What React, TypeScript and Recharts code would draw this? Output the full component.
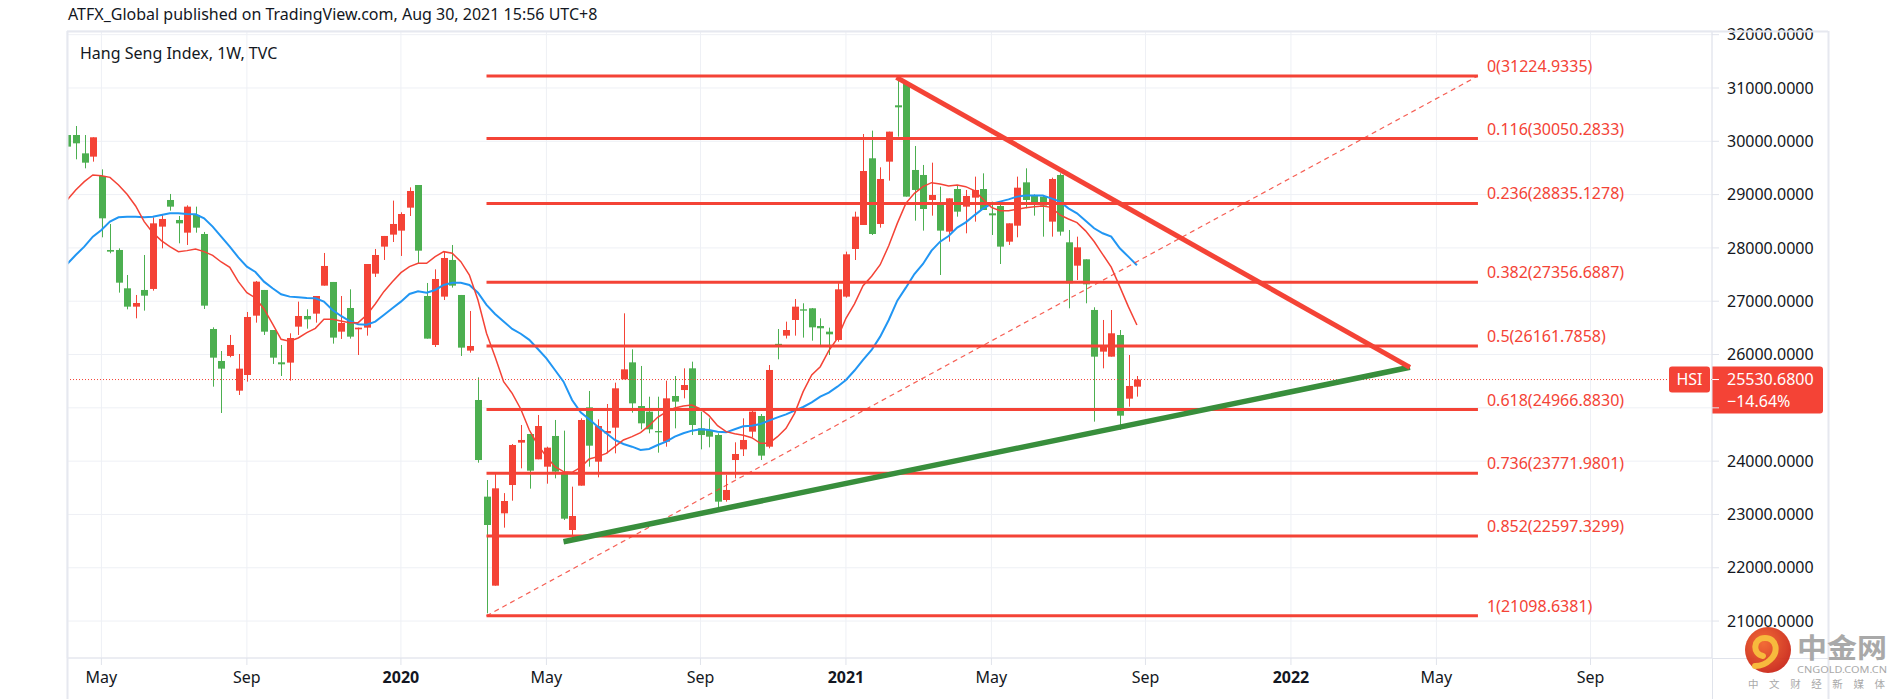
import React from 'react';
import { ComposedChart, Bar, Line, XAxis, YAxis, CartesianGrid, ReferenceLine } from 'recharts';

const RED = '#f44336';
const GREEN = '#4caf50';
const BLUE = '#2196f3';
const DARK_GREEN = '#388e3c';
const FONT = '"Noto Sans", "Open Sans", sans-serif';

// Weekly candles, index 0 = week of 2019-04-08 ... index 125 = week of 2021-08-30
const opens = [30118,30118,29774,29712,29349,27961,27961,27242,26898,27211,27230,28399,28899,28524,28286,28618,28261,26479,25879,25973,25322,25616,26729,27211,26460,25854,25848,26523,26723,26767,27292,27361,26429,26873,26473,26504,27517,28024,28249,28324,28755,29180,27098,26179,27086,27774,27117,26073,25147,23334,21664,23021,23552,24347,24509,24034,23896,24472,23759,22708,23540,25009,23990,24522,24628,25535,25853,25034,24928,24565,24365,25222,25334,25741,24615,24584,24490,23271,24021,24221,24553,24847,24271,26200,26354,26648,26848,26867,26535,26429,26273,27086,27980,28430,29681,28449,29618,30675,31088,29462,29368,28899,28805,28305,29105,28774,28943,29105,28649,28786,28117,28417,29230,28993,28962,28493,29368,28105,27667,27786,26836,26054,25960,26366,25172,25397];
const highs = [30225,30287,30118,30075,29474,28449,27992,27492,27117,27867,28574,28636,29012,28599,28799,28774,28299,26510,26066,26367,26010,26798,27380,27211,26460,26179,26398,26992,26848,27098,27905,27361,27098,27223,26504,27698,27980,28224,28887,28668,29136,29180,27342,27598,27930,28055,27117,26817,25572,23646,23759,23400,24320,24678,24509,24866,24271,24772,24572,23521,24803,25316,24784,25072,25472,26773,26097,25785,25209,25209,25510,25597,25741,25866,24928,24803,24522,23740,24353,24803,24959,24884,25803,26479,26617,27042,26961,26873,26679,26504,27336,27930,28680,30137,30200,29512,30181,31225,31100,29912,29556,29599,29149,28930,29162,29087,29337,29399,28868,28836,28461,29337,29493,29005,28993,29318,29399,28336,28211,27786,26886,26648,26835,26460,25991,25597];
const lows = [29681,29662,29493,29618,28199,27899,27161,26848,26679,26823,27198,27992,28699,28086,28055,28286,26854,25397,24903,25948,25241,25491,26598,26367,25823,25597,25510,26367,26485,26598,27292,26204,26292,26298,25991,26354,27455,27774,28111,27849,28599,27711,26298,26141,27023,27255,25973,26035,23971,21145,21664,22752,23258,23865,23484,24034,23577,23677,22896,22508,23540,23896,23696,24146,24146,25535,24909,24597,24522,24159,24271,24615,25178,24490,24221,24259,23133,23240,23677,24096,24447,24021,24240,25910,26300,26354,26317,26260,26147,25991,26241,27067,27773,28430,28242,28380,29262,30087,28962,28511,28324,28605,27492,28117,28586,28274,28493,28711,28242,27698,28055,28199,28743,28605,28211,28211,28230,26867,27398,26961,24741,25741,25960,24584,25022,25210];
const closes = [29900,29962,29599,30075,28555,27930,27348,26898,26967,27104,28461,28543,28774,28461,28774,28380,26917,25941,25735,26179,25735,26704,27367,26429,25941,25816,26310,26723,26660,27098,27661,26317,26592,26335,26504,27698,27867,28224,28449,28636,29068,27948,26298,27417,27811,27292,26129,26160,24021,22802,23490,23252,24303,24397,23821,24659,24253,23803,22921,22971,24772,24290,24659,24565,25366,25722,25084,24709,24597,24540,25178,25116,25428,24678,24490,24459,23240,23459,24134,24397,24928,24103,25710,26160,26460,26898,26823,26510,26492,26379,27223,27880,28586,29443,28261,29293,30181,30637,28962,29087,28730,28993,28324,28930,28680,28974,29087,28711,28611,28024,28461,29130,28899,28824,28793,29293,28305,27336,28011,27317,25960,26179,26398,24853,25410,25530.68];

// Moving averages (red = fast, blue = slow)
const maFast = [28899,29087,29243,29368,29355,29324,29180,29005,28786,28492,28286,28136,28024,27930,27949,27980,27930,27861,27736,27636,27367,27161,27061,26854,26573,26285,26248,26310,26410,26492,26660,26660,26629,26598,26598,26742,26948,27179,27367,27536,27648,27711,27711,27836,27930,27899,27742,27492,27023,26398,25960,25491,25272,24978,24584,24303,24084,23896,23803,23790,23884,24040,24084,24146,24271,24397,24459,24534,24665,24822,24922,24997,25034,25053,24978,24853,24665,24553,24515,24484,24440,24334,24334,24459,24615,24897,25303,25616,25772,26072,26304,26680,26950,27290,27470,27685,28040,28460,28836,29024,29149,29224,29199,29162,29180,29149,29074,28918,28761,28699,28699,28724,28755,28774,28786,28761,28618,28543,28474,28320,28120,27880,27640,27273,26898,26554];
const maSlow = [27698,27867,28024,28211,28336,28493,28574,28586,28586,28574,28586,28618,28649,28649,28636,28630,28555,28399,28211,28024,27823,27648,27548,27367,27242,27130,27086,27073,27061,27055,26992,26836,26723,26629,26567,26560,26617,26742,26867,26992,27136,27186,27161,27211,27305,27348,27348,27305,27160,26930,26760,26620,26480,26390,26275,26104,25929,25710,25491,25147,24916,24784,24647,24522,24397,24321,24271,24209,24228,24303,24365,24459,24522,24572,24597,24584,24553,24540,24597,24653,24665,24697,24759,24822,24878,24947,25016,25103,25209,25284,25397,25522,25700,25898,26085,26335,26648,27010,27254,27511,27698,27949,28117,28224,28380,28480,28611,28736,28824,28868,28911,28962,28981,28981,28981,28930,28868,28743,28649,28511,28368,28274,28211,27992,27836,27674];

// Time axis (bar index of first weekly bar of the month)
const timeTicks = [4, 21, 39, 56, 74, 91, 108, 126, 143, 160, 178];
const timeLabels = ['May', 'Sep', '2020', 'May', 'Sep', '2021', 'May', 'Sep', '2022', 'May', 'Sep'];
const priceTicks = [21000, 22000, 23000, 24000, 25000, 26000, 27000, 28000, 29000, 30000, 31000, 32000];

// Fibonacci retracement
const fibRatios = ['0', '0.116', '0.236', '0.382', '0.5', '0.618', '0.736', '0.852', '1'];
const fibLevels = [31224.9335, 30050.2833, 28835.1278, 27356.6887, 26161.7858, 24966.883, 23771.9801, 22597.3299, 21098.6381];
const fibFrom = 49;
const fibTo = 164.85;

// Triangle trend lines
const resistanceLine = [{ x: 96.9, y: 31200 }, { x: 156.9, y: 25760 }];
const supportLine = [{ x: 58, y: 22489 }, { x: 156.9, y: 25760 }];

const lastPrice = 25530.68;
const lastChange = '\u221214.64%';

const data = opens.map((o, i) => ({
  i,
  range: [lows[i], highs[i]],
  open: o,
  high: highs[i],
  low: lows[i],
  close: closes[i],
  maFast: maFast[i],
  maSlow: maSlow[i],
}));

const Candle = (props: any) => {
  const { x, y, width, height, payload } = props;
  if (x == null || y == null || !payload) return null;
  const { open, close, high, low } = payload;
  const cx = Math.round(x + width / 2) + 0.5;
  const span = high - low;
  const k = span > 0 ? height / span : 0;
  const yOf = (v: number) => y + (high - v) * k;
  const up = close >= open;
  const color = up ? RED : GREEN;
  const top = yOf(Math.max(open, close));
  const bot = yOf(Math.min(open, close));
  return (
    <g>
      <line x1={cx} x2={cx} y1={y} y2={y + height} stroke={color} strokeWidth={1} />
      <rect x={cx - 3.5} y={top} width={7} height={Math.max(1, bot - top)} fill={color} />
    </g>
  );
};

const TimeTick = (props: any) => {
  const { x, y, payload } = props;
  const idx = timeTicks.indexOf(payload.value);
  const label = timeLabels[idx] ?? '';
  const bold = /^\d{4}$/.test(label);
  return (
    <text x={x} y={y} dy={14} textAnchor="middle" fontFamily={FONT} fontSize={16}
      fontWeight={bold ? 700 : 400} fill="#131722">{label}</text>
  );
};

const PriceTick = (props: any) => {
  const { x, y, payload } = props;
  if (payload.value === 25000) return <g />;
  return (
    <text x={x} y={y} dy="0.35em" textAnchor="start" fontFamily={FONT} fontSize={16} fill="#131722">
      {Number(payload.value).toFixed(4)}
    </text>
  );
};

const fibLabel = (text: string) => (p: any) => {
  const vb = p.viewBox || {};
  return (
    <text x={vb.x + vb.width + 9} y={vb.y - 4} fontFamily={FONT} fontSize={16} fill={RED}>{text}</text>
  );
};

const priceLabel = (p: any) => {
  const vb = p.viewBox || {};
  const right = vb.x + vb.width;
  const yy = vb.y;
  return (
    <g>
      <rect x={right - 43} y={yy - 13} width={41} height={26} rx={3} fill={RED} />
      <text x={right - 22.5} y={yy} dy="0.36em" textAnchor="middle" fontFamily={FONT} fontSize={16} fill="#fff">HSI</text>
      <path d={`M ${right} ${yy - 13} h 108 a 3 3 0 0 1 3 3 v 41 a 3 3 0 0 1 -3 3 h -108 z`} fill={RED} />
      <line x1={right} x2={right + 7} y1={yy} y2={yy} stroke="#fff" strokeWidth={1} />
      <text x={right + 15} y={yy} dy="0.36em" fontFamily={FONT} fontSize={16} fill="#fff">{lastPrice.toFixed(4)}</text>
      <text x={right + 15} y={yy + 22} dy="0.36em" fontFamily={FONT} fontSize={16} fill="#fff">{lastChange}</text>
    </g>
  );
};

export default function App() {
  return (
    <div style={{ position: 'absolute', left: 0, top: 0, width: 1902, height: 699, background: '#fff', overflow: 'hidden' }}>
      <ComposedChart width={1902} height={699} data={data}
        margin={{ top: 31, right: 74, bottom: 0, left: 67 }}>
        <CartesianGrid stroke="#eef0f5" strokeWidth={1} />
        <XAxis dataKey="i" type="number" domain={[-0.02, 192.2]} allowDataOverflow ticks={timeTicks}
          interval={0} height={41} tick={<TimeTick />} tickSize={7} tickMargin={4}
          axisLine={{ stroke: '#e0e3eb' }} tickLine={{ stroke: '#e0e3eb' }} />
        <YAxis orientation="right" width={116} domain={[20307, 32069]} allowDataOverflow ticks={priceTicks}
          interval={0} tick={<PriceTick />} tickSize={7} tickMargin={8}
          axisLine={{ stroke: '#e0e3eb' }} tickLine={{ stroke: '#e0e3eb' }} />
        <ReferenceLine y={lastPrice} stroke={RED} strokeWidth={1} strokeDasharray="1 2" label={priceLabel} />
        <Bar dataKey="range" shape={<Candle />} barSize={7} isAnimationActive={false} />
        <Line dataKey="maSlow" type="linear" stroke={BLUE} strokeWidth={2} dot={false} isAnimationActive={false} />
        <Line dataKey="maFast" type="linear" stroke={RED} strokeWidth={1.5} dot={false} isAnimationActive={false} />
        {fibLevels.map((lvl, k) => (
          <ReferenceLine key={'fib' + k}
            segment={[{ x: fibFrom, y: lvl }, { x: fibTo, y: lvl }]}
            stroke={RED} strokeWidth={3} label={fibLabel(`${fibRatios[k]}(${lvl.toFixed(4)})`)} />
        ))}
        <ReferenceLine segment={[{ x: fibFrom, y: fibLevels[8] }, { x: fibTo, y: fibLevels[0] }]}
          stroke={RED} strokeOpacity={0.85} strokeWidth={1.2} strokeDasharray="5 4" />
        <ReferenceLine segment={supportLine} stroke={DARK_GREEN} strokeWidth={5.5} />
        <ReferenceLine segment={resistanceLine} stroke={RED} strokeWidth={5} />
      </ComposedChart>

      <svg width={1902} height={699} style={{ position: 'absolute', left: 0, top: 0, pointerEvents: 'none' }}>
        <text x={68} y={14} dy="0.35em" fontFamily={FONT} fontSize={16} fill="#131722">
          ATFX_Global published on TradingView.com, Aug 30, 2021 15:56 UTC+8
        </text>
        <text x={80} y={53} dy="0.35em" fontFamily={FONT} fontSize={16} fill="#131722">Hang Seng Index, 1W, TVC</text>
        <line x1={67} x2={1828} y1={31.5} y2={31.5} stroke="#e6e8ef" strokeWidth={2} />
        <line x1={67.5} x2={67.5} y1={31} y2={699} stroke="#e6e8ef" strokeWidth={2} />
        <line x1={1828.5} x2={1828.5} y1={31} y2={699} stroke="#e6e8ef" strokeWidth={2} />
        <line x1={1712.5} x2={1712.5} y1={658} y2={699} stroke="#e0e3eb" strokeWidth={1} />
        <line x1={1712} x2={1828} y1={658.5} y2={658.5} stroke="#e0e3eb" strokeWidth={1} />
        <defs>
          <radialGradient id="wmg" cx="40%" cy="35%" r="70%">
            <stop offset="0%" stopColor="#f2642c" />
            <stop offset="100%" stopColor="#c9261a" />
          </radialGradient>
        </defs>
        <g opacity={0.95}>
          <circle cx={1768} cy={650} r={23} fill="url(#wmg)" />
          <path d="M 1763 656 C 1752 654 1753 638 1765 638 C 1777 638 1779 652 1770 660 C 1766 664 1760 666 1755 666"
            stroke="#f7b733" strokeWidth={6} fill="none" strokeLinecap="round" />
          <text x={1797} y={658} fontFamily='"Noto Sans CJK SC", sans-serif' fontSize={27} fontWeight={700}
            fill="#a5a5a5" textLength={90} lengthAdjust="spacingAndGlyphs">中金网</text>
          <text x={1797} y={673} fontFamily={FONT} fontSize={8.5} fill="#a5a5a5" textLength={90}
            lengthAdjust="spacingAndGlyphs">CNGOLD.COM.CN</text>
          <text x={1748} y={688} fontFamily='"Noto Sans CJK SC", sans-serif' fontSize={10.5} fill="#a5a5a5"
            textLength={137} lengthAdjust="spacing">中文财经新媒体</text>
        </g>
      </svg>
    </div>
  );
}
